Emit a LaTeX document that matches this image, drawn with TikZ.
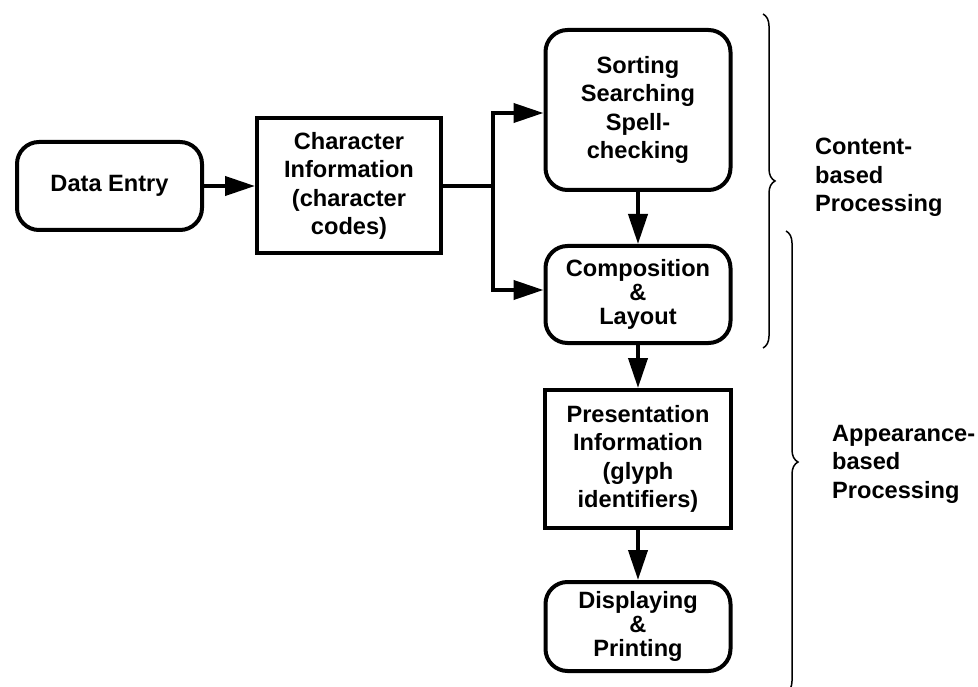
\documentclass[tikz,border=0pt]{standalone}
\usepackage{fontspec}
\setmainfont{Liberation Sans}
\usetikzlibrary{arrows.meta,decorations.pathreplacing}
\begin{document}
\begin{tikzpicture}[x=1pt,y=-1pt,
 box/.style={draw, line width=4pt, minimum width=185pt, align=center, inner sep=0pt,
   font=\bfseries\fontsize{23.6}{28.5}\selectfont},
 tightbox/.style={box, font=\bfseries\fontsize{23.6}{24}\selectfont},
 rnd/.style={rounded corners=22pt},
 arr/.style={line width=4pt, -{Triangle[length=30pt,width=19pt]}},
 conn/.style={line width=4pt},
 brc/.style={decorate, decoration={brace, amplitude=12pt}, line width=1.5pt},
 lbl/.style={anchor=north west, align=left, inner sep=0pt,
   font=\bfseries\fontsize{23.6}{28.5}\selectfont}]
\useasboundingbox (0,0) rectangle (978,687);

\node[box, rnd, minimum width=185pt, minimum height=88pt] (data) at (109.5,186) {Data Entry};
\node[box, minimum width=184pt, minimum height=135pt] (char) at (349,186) {Character\\Information\\(character\\codes)};
\node[box, rnd, minimum height=160pt] (sort) at (638,110) {Sorting\\Searching\\Spell-\\checking};
\node[tightbox, rnd, minimum height=97pt] (comp) at (638,294.5) {Composition\\\&\\Layout};
\node[box, minimum width=186pt, minimum height=138pt] (pres) at (638,459) {Presentation\\Information\\(glyph\\identifiers)};
\node[tightbox, rnd, minimum height=89pt] (disp) at (638,626.5) {Displaying\\\&\\Printing};

\coordinate (br) at (493,186);
\draw[arr] (data) -- (char);
\draw[conn] (char.east) -- (br);
\draw[arr] (br) |- (sort.west |- 0,113);
\draw[arr] (br) |- (comp.west |- 0,290);
\draw[arr] (sort) -- (comp);
\draw[arr] (comp) -- (pres);
\draw[arr] (pres) -- (disp);

\coordinate (b1s) at (763,14);
\coordinate (b1e) at (763,348);
\coordinate (b2s) at (786,231);
\coordinate (b2e) at (786,693);
\draw[brc] (b1s) -- (b1e);
\draw[brc] (b2s) -- (b2e);

\node[lbl] (content) at (815,138) {Content-\\based\\Processing};
\node[lbl] (appear) at (832,425) {Appearance-\\based\\Processing};
\end{tikzpicture}
\end{document}
